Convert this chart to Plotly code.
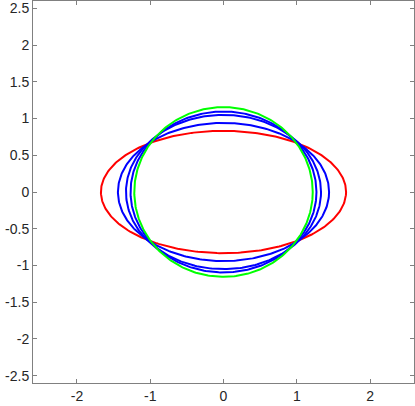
import numpy as np
import plotly.graph_objects as go

# semi-axes of each closed curve
names = ["start", "step 1", "step 2", "step 3", "final"]
semi_x = [1.673, 1.441, 1.331, 1.269, 1.218]
semi_y = [0.833, 0.940, 1.050, 1.095, 1.155]
colors = ["#ff0000", "#0000ff", "#0000ff", "#0000ff", "#00ff00"]

x_ticks = [-2, -1, 0, 1, 2]
y_ticks = [-2.5, -2, -1.5, -1, -0.5, 0, 0.5, 1, 1.5, 2, 2.5]

t = np.linspace(0, 2 * np.pi, 361)

fig = go.Figure()

# draw outer curves first so the green circle sits on top
for name, a, b, c in zip(names, semi_x, semi_y, colors):
    fig.add_trace(go.Scatter(
        x=a * np.cos(t),
        y=b * np.sin(t),
        mode="lines",
        name=name,
        line=dict(color=c, width=2),
        hoverinfo="skip"
    ))

axis_style = dict(
    showgrid=False,
    zeroline=False,
    showline=True,
    linecolor="#808080",
    linewidth=1,
    mirror="ticks",
    ticks="inside",
    ticklen=4,
    tickcolor="#808080",
    tickfont=dict(family="Liberation Sans, Arial, sans-serif", size=14, color="#262626"),
)

fig.update_layout(
    width=415,
    height=406,
    margin=dict(l=33, r=1, t=1, b=23),
    paper_bgcolor="white",
    plot_bgcolor="white",
    showlegend=False,
    xaxis=dict(range=[-2.6, 2.6], tickvals=x_ticks, ticktext=[str(v) for v in x_ticks], **axis_style),
    yaxis=dict(range=[-2.6, 2.6], tickvals=y_ticks, ticktext=[f"{v:g}" for v in y_ticks], **axis_style),
)

# the page body has a default 8px margin; drop it so the figure fills the window
fig.write_html("out.html", config={"displayModeBar": False},
               post_script="document.body.style.margin='0';")
